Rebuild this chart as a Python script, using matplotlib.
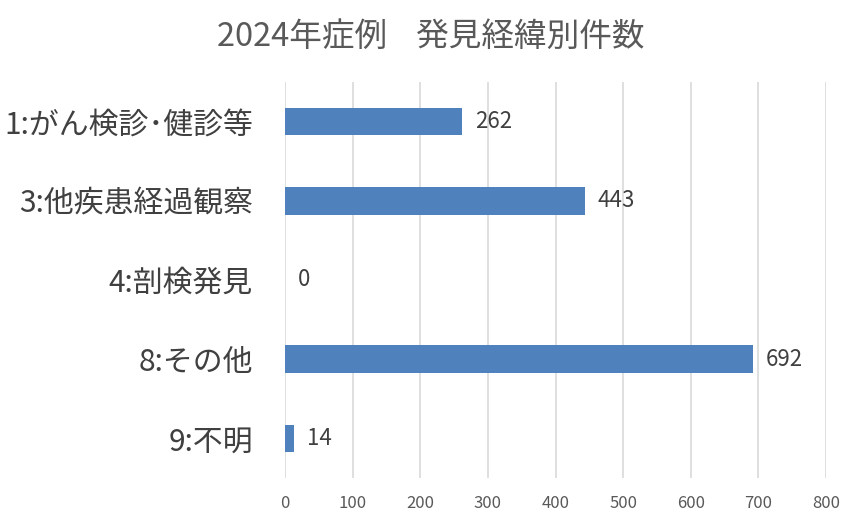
import matplotlib
matplotlib.use("Agg")
import matplotlib.pyplot as plt

plt.rcParams['font.family'] = ['Noto Sans CJK JP', 'DejaVu Sans']

categories = ["1:がん検診･健診等", "3:他疾患経過観察", "4:剖検発見", "8:その他", "9:不明"]
counts = [262, 443, 0, 692, 14]
x_ticks = [0, 100, 200, 300, 400, 500, 600, 700, 800]

fig = plt.figure(figsize=(8.61, 5.26), dpi=100)
ax = fig.add_axes([285 / 861, 1 - 478 / 526, (826 - 285) / 861, (478 - 82) / 526])

ypos = list(range(len(categories)))
ax.barh(ypos, counts, height=0.35, color="#4f81bd", zorder=3)
for y, v in zip(ypos, counts):
    ax.annotate(str(v), (v, y), xytext=(9, 0), textcoords="offset points",
                va="center", ha="left", fontsize=16, color="#404040")

ax.set_xlim(0, 800)
ax.set_ylim(len(categories) - 0.5, -0.5)
ax.set_xticks(x_ticks)
ax.set_xticklabels([str(t) for t in x_ticks], fontsize=12, color="#595959")
ax.set_yticks(ypos)
ax.set_yticklabels(categories, fontsize=21.5, color="#404040")
ax.tick_params(axis="both", length=0)
ax.tick_params(axis="y", pad=23)
ax.tick_params(axis="x", pad=12)
ax.xaxis.grid(True, color="#d9d9d9", linewidth=1.2, zorder=0)
for s in ax.spines.values():
    s.set_visible(False)

fig.text(431 / 861, 1 - 37 / 526, "2024年症例    発見経緯別件数", ha="center", va="center",
         fontsize=23.5, color="#595959")

plt.savefig("out.png", dpi=100)
